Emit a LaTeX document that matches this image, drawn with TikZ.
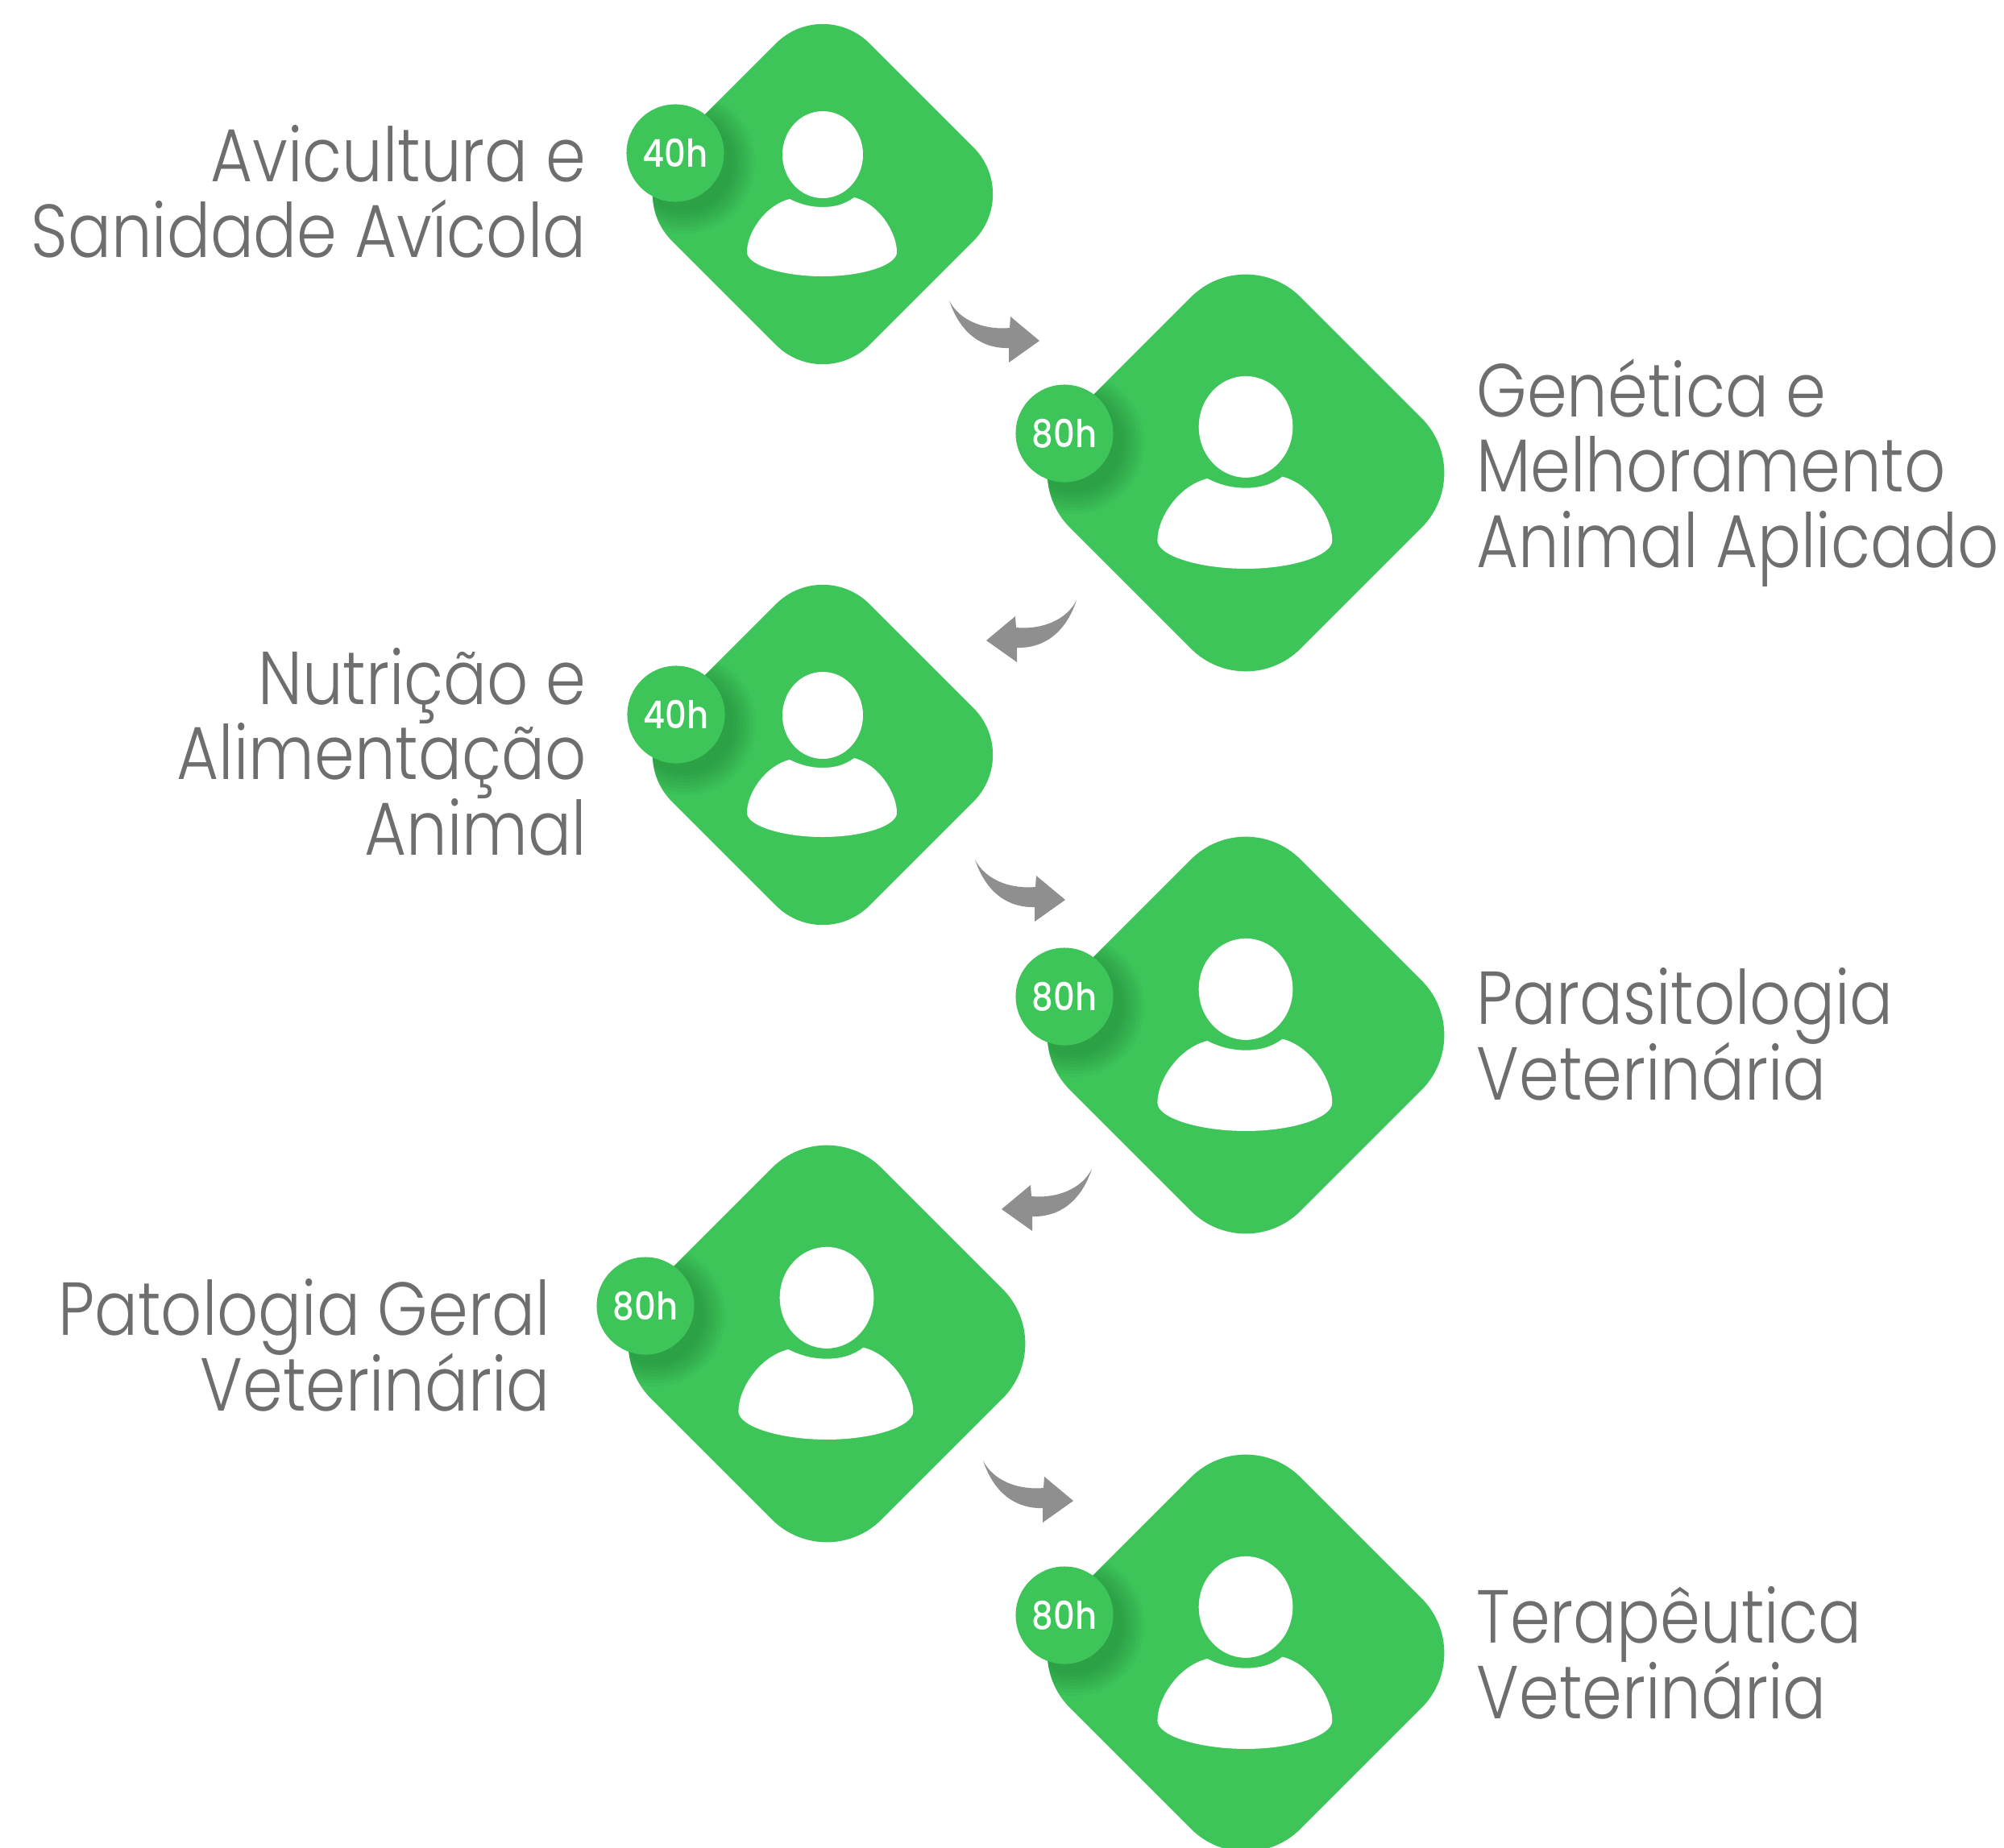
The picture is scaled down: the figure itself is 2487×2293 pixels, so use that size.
\documentclass[tikz,border=0pt]{standalone}
\usepackage{fontspec}
\usetikzlibrary{shapes.geometric}
\setmainfont{Poppins}[UprightFont=* Light,BoldFont=* Medium]
\normallineskiplimit=-30pt
\lineskiplimit=-30pt
\definecolor{cardgreen}{HTML}{3EC55A}
\definecolor{shadowgreen}{HTML}{1C7A33}
\definecolor{arrowgray}{HTML}{8F8F8F}
\definecolor{labelgray}{HTML}{6E6E6E}
\tikzset{
  carddiamond/.style={shape=diamond,aspect=1,fill=cardgreen,inner sep=0pt,outer sep=0pt,draw=none},
  smallcard/.style={carddiamond,minimum size=4.90cm,rounded corners=0.82cm},
  largecard/.style={carddiamond,minimum size=5.72cm,rounded corners=0.96cm},
  badge/.style={circle,fill=cardgreen,minimum size=1.21cm,inner sep=0pt,text=white,font=\fontsize{13.5}{16}\selectfont\bfseries},
  personpart/.style={fill=white,draw=none},
  bentarrow/.style={fill=arrowgray,draw=none},
  coursetitle/.style={text=labelgray,inner sep=0pt,font=\fontsize{26.5}{26.5}\selectfont,xscale=0.858,transform shape}
}
% #1 name, #2 card style, #3 x, #4 y, #5 person scale, #6 badge x, #7 badge y, #8 badge text
\newcommand{\coursecard}[8]{%
  \node[#2] (#1) at (#3,#4) {};
  \begin{scope}[shift={(#3,#4)},scale=#5]
    \fill[personpart] (0,-49) ellipse [x radius=50,y radius=54];
    \fill[personpart] (-41,6) .. controls (-25,14) and (-12,16) .. (0,16)
       .. controls (14,16) and (27,13) .. (39,4)
       .. controls (70,12) and (92,48) .. (92,72)
       .. controls (92,88) and (50,102) .. (0,102)
       .. controls (-50,102) and (-94,88) .. (-94,72)
       .. controls (-94,48) and (-72,14) .. (-41,6) -- cycle;
  \end{scope}
  \pgfmathsetmacro\cardrad{0.82*#5}
  \begin{scope}
    \clip[rounded corners=\cardrad cm,shift={(#3,#4)},scale=#5] (0,-245) -- (245,0) -- (0,245) -- (-245,0) -- cycle;
    \foreach \shr in {88,84,...,60}{\fill[shadowgreen,opacity=0.07] (#6+11,#7+12) circle [radius=\shr];}
  \end{scope}
  \node[badge] (#1badge) at (#6,#7) {\scalebox{0.88}[1]{#8}};
}
% #1 name, #2 x, #3 y, #4 direction (1 right, -1 left)
\newcommand{\bentarrowat}[4]{%
  \coordinate (#1) at (#2,#3);
  \fill[bentarrow,shift={(#1)},xscale=#4] (0,0) .. controls (12,24) and (42,37) .. (75,34)
    -- (76,20) -- (112,50) -- (74,77) -- (74,59)
    .. controls (42,60) and (14,42) .. (0,0) -- cycle;
}
\begin{document}
\begin{tikzpicture}[x=0.01cm,y=-0.01cm]
\useasboundingbox (0,0) rectangle (2487,2293);
\coursecard{avi}{smallcard}{1021}{241}{1}{838}{190}{40h}
\coursecard{gen}{largecard}{1546}{587}{1.166}{1321}{538}{80h}
\coursecard{nut}{smallcard}{1021}{937}{1}{839}{887}{40h}
\coursecard{par}{largecard}{1546}{1285}{1.166}{1321}{1237}{80h}
\coursecard{pat}{largecard}{1026}{1668}{1.166}{801}{1621}{80h}
\coursecard{ter}{largecard}{1546}{2052}{1.166}{1321}{2005}{80h}
\bentarrowat{arrowa}{1178}{373}{1}
\bentarrowat{arrowb}{1336}{745}{-1}
\bentarrowat{arrowc}{1210}{1067}{1}
\bentarrowat{arrowd}{1355}{1451}{-1}
\bentarrowat{arrowe}{1220}{1813}{1}
\node[coursetitle,anchor=base east,align=right] (tavi) at (728,319) {Avicultura e\\Sanidade Avícola};
\node[coursetitle,anchor=base east,align=right] (tnut) at (728,1061) {Nutrição e\\Alimentação\\Animal};
\node[coursetitle,anchor=base east,align=right] (tpat) at (683,1751) {Patologia Geral\\Veterinária};
\node[coursetitle,anchor=base west,align=left] (tgen) at (1832,704) {Genética e\\Melhoramento\\Animal Aplicado};
\node[coursetitle,anchor=base west,align=left] (tpar) at (1832,1365) {Parasitologia\\Veterinária};
\node[coursetitle,anchor=base west,align=left] (tter) at (1832,2133) {Terapêutica\\Veterinária};
\end{tikzpicture}
\end{document}
